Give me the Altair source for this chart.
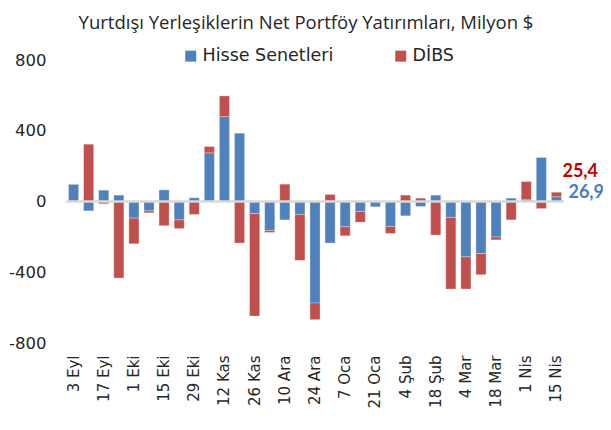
import altair as alt
import pandas as pd

FONT = "DejaVu Sans"
TITLE_FONT = "Open Sans"
BOLD_FONT = "Lato"

weeks = ["3 Eyl", "10 Eyl", "17 Eyl", "24 Eyl", "1 Eki", "8 Eki", "15 Eki", "22 Eki", "29 Eki",
         "5 Kas", "12 Kas", "19 Kas", "26 Kas", "3 Ara", "10 Ara", "17 Ara", "24 Ara", "31 Ara",
         "7 Oca", "14 Oca", "21 Oca", "28 Oca", "4 Şub", "11 Şub", "18 Şub", "25 Şub",
         "4 Mar", "11 Mar", "18 Mar", "25 Mar", "1 Nis", "8 Nis", "15 Nis"]
hisse = [98, -53, 64, 36, -94, -53, 66, -104, 21,
         275, 480, 386, -68, -164, -104, -73, -574, -235,
         -143, -56, -30, -141, -81, -28, 36, -90,
         -313, -294, -201, 19, 10, 249, 26.9]
dibs = [0, 324, -13, -433, -145, -11, -137, -49, -73,
        36, 117, -235, -580, -11, 98, -260, -94, 40,
        -51, -61, 0, -40, 36, 19, -190, -405,
        -182, -120, -16, -104, 103, -40, 25.4]
tick_labels = ["3 Eyl", "17 Eyl", "1 Eki", "15 Eki", "29 Eki", "12 Kas", "26 Kas", "10 Ara",
               "24 Ara", "7 Oca", "21 Oca", "4 Şub", "18 Şub", "4 Mar", "18 Mar", "1 Nis", "15 Nis"]
y_ticks = [-800, -400, 0, 400, 800]
series_names = ["Hisse Senetleri", "DİBS"]
series_colors = ["#4f81bd", "#c0504d"]
end_labels = ["25,4", "26,9"]
title_text = "Yurtdışı Yerleşiklerin Net Portföy Yatırımları, Milyon $"

rows = []
for i, w in enumerate(weeks):
    rows.append({"hafta": w, "seri": series_names[0], "sira": 0, "deger": hisse[i]})
    rows.append({"hafta": w, "seri": series_names[1], "sira": 1, "deger": dibs[i]})
df = pd.DataFrame(rows)

x_scale = alt.Scale(paddingInner=0.33, paddingOuter=0.165)
x_axis = alt.Axis(values=tick_labels, labelAngle=-90, title=None, domain=False,
                  ticks=False, labelFontSize=15, labelPadding=12,
                  labelColor="#262626", labelFont=FONT)
y_scale = alt.Scale(domain=[-800, 800], nice=False)
y_axis = alt.Axis(values=y_ticks, title=None, grid=False, domain=False, ticks=False,
                  labelFontSize=16.5, labelPadding=20, labelColor="#262626",
                  labelFont=FONT,
                  labelExpr="datum.value < 0 ? '-' + abs(datum.value) : '' + datum.value")

bars = alt.Chart(df).mark_bar(stroke="white", strokeWidth=0.5, strokeOpacity=0.6).encode(
    x=alt.X("hafta:N", sort=weeks, scale=x_scale, axis=x_axis),
    y=alt.Y("deger:Q", stack="zero", scale=y_scale, axis=y_axis),
    color=alt.Color("seri:N", sort=series_names,
                    scale=alt.Scale(domain=series_names, range=series_colors),
                    legend=alt.Legend(title=None, orient="none", legendX=116, legendY=-13,
                                      direction="horizontal", symbolType="square",
                                      symbolSize=121, symbolStrokeWidth=0,
                                      labelFontSize=17.5, labelFont=FONT, labelColor="#262626",
                                      columnPadding=58, labelOffset=3, labelLimit=300)),
    order=alt.Order("sira:Q"),
)

zero = alt.Chart(pd.DataFrame({"y": [0]})).mark_rule(color="#d9d9d9", strokeWidth=2.5).encode(
    y=alt.Y("y:Q", scale=y_scale, axis=y_axis))

lab_red = alt.Chart(pd.DataFrame({"hafta": [weeks[-1]], "v": [hisse[-1] + dibs[-1]],
                                  "t": [end_labels[0]]})).mark_text(
    align="left", baseline="middle", dx=6, dy=-20, fontSize=18, fontWeight="bold",
    font=BOLD_FONT, color="#c00000").encode(
    x=alt.X("hafta:N", sort=weeks, scale=x_scale, axis=x_axis),
    y=alt.Y("v:Q", scale=y_scale, axis=y_axis),
    text="t:N")

lab_blue = alt.Chart(pd.DataFrame({"hafta": [weeks[-1]], "v": [hisse[-1]],
                                   "t": [end_labels[1]]})).mark_text(
    align="left", baseline="middle", dx=12, dy=-4, fontSize=18, fontWeight="bold",
    font=BOLD_FONT, color="#4a7ebb").encode(
    x=alt.X("hafta:N", sort=weeks, scale=x_scale, axis=x_axis),
    y=alt.Y("v:Q", scale=y_scale, axis=y_axis),
    text="t:N")

chart = alt.layer(bars, zero, lab_red, lab_blue).properties(
    width=498, height=283,
    autosize=alt.AutoSizeParams(type="none"),
    padding={"left": 58, "top": 52, "right": 39, "bottom": 70},
    title=alt.TitleParams(title_text, anchor="middle", fontSize=18.5, font=TITLE_FONT,
                          fontWeight="normal", color="#262626", offset=15, dx=-9,
                          frame="group"),
).configure(background="white").configure_view(stroke="transparent", strokeWidth=0)

chart.save("out.html", embed_options={"renderer": "svg", "actions": False})
